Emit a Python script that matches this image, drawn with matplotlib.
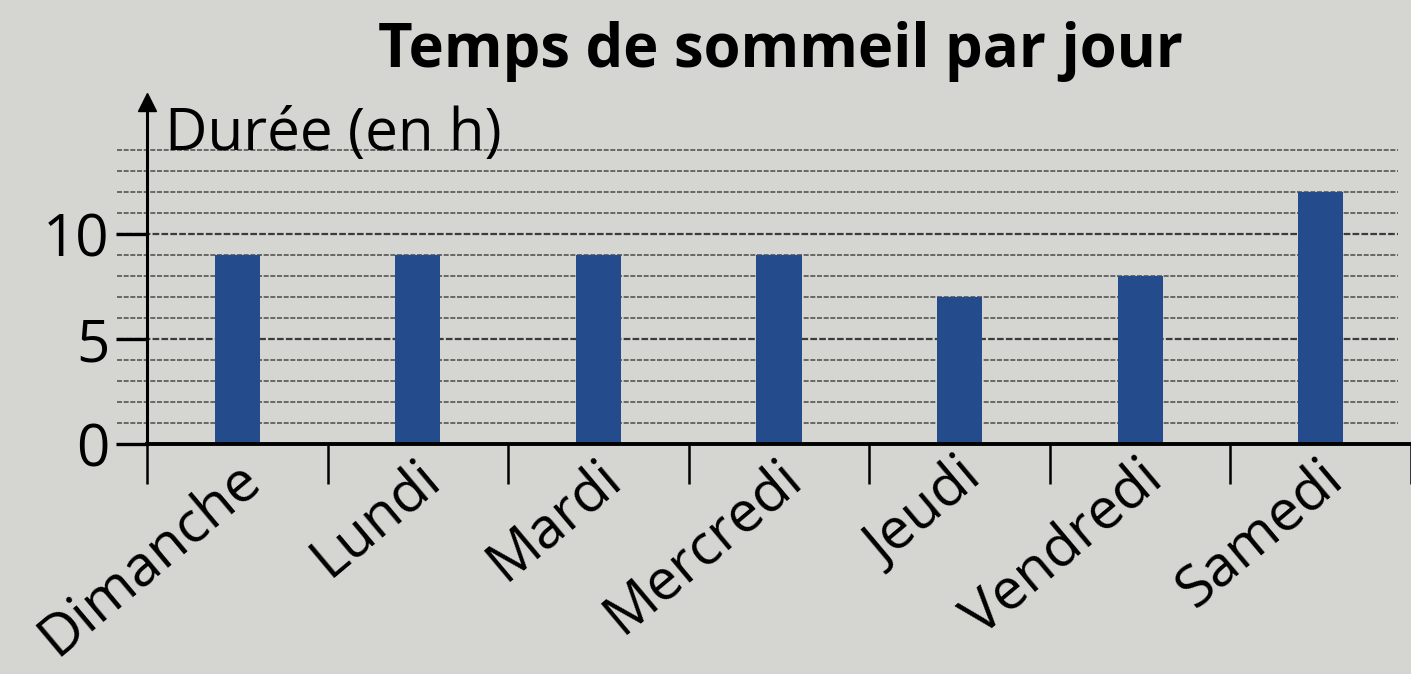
import matplotlib
matplotlib.use("Agg")
import matplotlib.pyplot as plt
from matplotlib.transforms import ScaledTranslation

# Data
jours = ["Dimanche", "Lundi", "Mardi", "Mercredi", "Jeudi", "Vendredi", "Samedi"]
durees = [9, 9, 9, 9, 7, 8, 12]
y_ticks = [0, 5, 10]
grid_levels = list(range(1, 15))

bg = "#d5d5d2"
bar_color = "#244b8c"

plt.rcParams["font.family"] = ["Open Sans", "DejaVu Sans"]

fig = plt.figure(figsize=(14.11, 6.74), dpi=100, facecolor=bg)
ax = fig.add_axes([147 / 1411, 1 - 444 / 674, 1264 / 1411, 16.3 * 21 / 674])
ax.set_facecolor(bg)

x = list(range(len(jours)))
ax.set_xlim(-0.5, 6.43)
ax.set_ylim(0, 16.3)

# horizontal ruled lines (extend a bit left of the axis)
for lvl in grid_levels:
    dark = lvl % 5 == 0
    ax.hlines(lvl, -0.665, 6.43, colors="#3c3c3c" if dark else "#555555",
              linewidth=1.6 if dark else 1.2, linestyles=(0, (3, 1)),
              clip_on=False, zorder=1)

ax.bar(x, durees, width=0.25, color=bar_color, zorder=2)

# spines
for s in ["top", "right"]:
    ax.spines[s].set_visible(False)
ax.spines["left"].set_linewidth(2.2)
ax.spines["bottom"].set_linewidth(2.8)
ax.spines["left"].set_zorder(3)
ax.spines["bottom"].set_zorder(3)
ax.plot(0, 1, marker="^", ms=13, color="black", transform=ax.transAxes,
        clip_on=False, zorder=4)

# y ticks
ax.set_yticks(y_ticks)
ax.set_yticklabels([str(v) for v in y_ticks])
ax.tick_params(axis="y", length=22, width=2.4, labelsize=42, pad=5)

# x: category separators as minor ticks, labels on majors
ax.set_xticks([i - 0.5 for i in range(len(jours) + 1)], minor=True)
ax.set_xticks(x)
ax.set_xticklabels(jours)
ax.tick_params(axis="x", which="major", length=0, pad=20, labelsize=41)
ax.tick_params(axis="x", which="minor", length=29, width=1.8)

offset = ScaledTranslation(0.16, 0, fig.dpi_scale_trans)
for lab in ax.get_xticklabels():
    lab.set_rotation(40)
    lab.set_ha("right")
    lab.set_va("center")
    lab.set_rotation_mode("anchor")
    lab.set_transform(lab.get_transform() + offset)

fig.text(781 / 1411, 1 - 67 / 674, "Temps de sommeil par jour", ha="center",
         va="baseline", fontsize=43, fontweight="bold")
fig.text(165 / 1411, 1 - 150 / 674, "Durée (en h)", ha="left", va="baseline",
         fontsize=42)

fig.savefig("out.png", dpi=100, facecolor=bg)
